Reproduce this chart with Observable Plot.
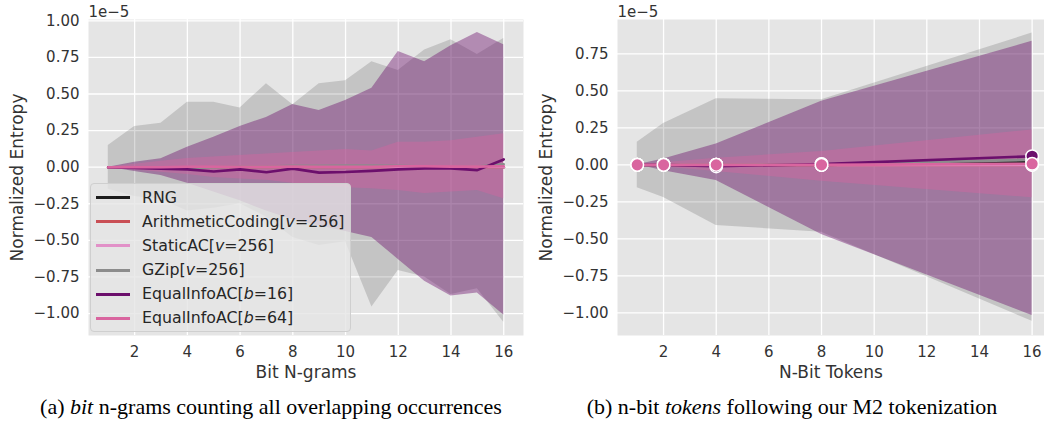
<!DOCTYPE html>
<html>
<head>
<meta charset="utf-8">
<script src="https://cdn.jsdelivr.net/npm/d3@7"></script>
<script src="https://cdn.jsdelivr.net/npm/@observablehq/plot@0.6"></script>
<style>
  html, body { margin: 0; padding: 0; background: #ffffff; overflow: hidden; }
  #root { position: relative; width: 1044px; height: 431px; font-family: "DejaVu Sans", sans-serif; }
  .panel { position: absolute; top: 0; }
  .legend { position: absolute; left: 90px; top: 183px; width: 261px; height: 149px;
    background: rgba(229,229,229,0.8); border: 1px solid #cfcfcf; border-radius: 4px;
    box-sizing: border-box; font-family: "DejaVu Sans", sans-serif; font-size: 15.8px; color: #262626; }
  .legend .row { position: absolute; left: 0; height: 24px; line-height: 24px; white-space: nowrap; }
  .legend .sw { position: absolute; left: 5px; top: 10.5px; width: 34px; height: 3px; }
  .legend .tx { position: absolute; left: 51px; top: 0; }
  .caption { position: absolute; top: 394px; width: 540px; text-align: center; font-family: "Liberation Serif", "Times New Roman", serif;
    font-size: 22px; line-height: 26px; color: #000; white-space: nowrap; }
</style>
</head>
<body>
<div id="root"></div>
<script>
// ---- series (legend order) ----
const seriesBase = ["RNG", "ArithmeticCoding", "StaticAC", "GZip", "EqualInfoAC", "EqualInfoAC"];
const seriesVar = ["", "v", "v", "v", "b", "b"];
const seriesVal = ["", "256", "256", "256", "16", "64"];
const seriesColors = ["#1c1c1c", "#c94f55", "#e291c8", "#8c8c8c", "#6c0f6c", "#d9659f"];

// ---- panel (a): bit n-grams (values in units of 1e-5) ----
const bitX = [1, 2, 3, 4, 5, 6, 7, 8, 9, 10, 11, 12, 13, 14, 15, 16];
const bitRng = [0, 0, 0, 0, 0, 0, 0, 0, 0, 0, 0, 0, 0, 0, 0, 0];
const bitAC = [0, 0, 0, 0, 0, 0, 0, 0, 0, 0, 0, 0, 0, 0, 0, 0];
const bitStatic = [0, 0, 0, 0, 0, 0, 0, 0, 0, 0, 0, 0, 0, 0, 0, 0];
const bitGzip = [0, 0, -0.005, -0.005, 0, 0.005, 0.005, 0.01, 0.01, 0.012, 0.012, 0.01, 0.005, 0.0, 0.005, 0.02];
const bitEq16 = [0, -0.005, -0.01, -0.015, -0.03, -0.015, -0.035, -0.01, -0.037, -0.033, -0.025, -0.015, -0.008, -0.008, -0.02, 0.053];
const bitEq64 = [0, 0, 0, 0.003, 0.003, 0.003, 0.003, 0.004, 0.003, 0.002, 0.002, 0.006, 0.006, 0.004, 0.004, 0.006];
const bitRngLo = [-0.15, -0.2, -0.22, -0.3, -0.28, -0.25, -0.34, -0.48, -0.535, -0.51, -0.956, -0.706, -0.75, -0.87, -0.83, -1.06];
const bitRngHi = [0.148, 0.278, 0.30, 0.444, 0.444, 0.405, 0.57, 0.426, 0.57, 0.59, 0.72, 0.66, 0.80, 0.87, 0.77, 0.88];
const bitEq16Lo = [0, -0.03, -0.057, -0.11, -0.17, -0.23, -0.30, -0.36, -0.40, -0.44, -0.48, -0.63, -0.78, -0.88, -0.86, -1.01];
const bitEq16Hi = [0, 0.034, 0.057, 0.137, 0.205, 0.278, 0.34, 0.428, 0.387, 0.456, 0.54, 0.79, 0.72, 0.83, 0.92, 0.836];
const bitEq64Lo = [0, -0.02, -0.034, -0.05, -0.07, -0.08, -0.09, -0.11, -0.125, -0.14, -0.148, -0.16, -0.18, -0.17, -0.16, -0.216];
const bitEq64Hi = [0, 0.02, 0.04, 0.06, 0.07, 0.08, 0.09, 0.10, 0.11, 0.12, 0.11, 0.17, 0.17, 0.18, 0.205, 0.228];

// ---- panel (b): n-bit tokens ----
const tokX = [1, 2, 4, 8, 16];
const tokRng = [0, 0, 0, 0, 0.02];
const tokAC = [0, 0, 0, 0, 0];
const tokStatic = [0, 0, 0, 0, 0];
const tokGzip = [0, 0, 0, 0.003, 0.034];
const tokEq16 = [0, 0, -0.01, 0.005, 0.058];
const tokEq64 = [0, 0, 0, 0, 0.007];
const tokRngLo = [-0.155, -0.22, -0.41, -0.455, -1.057];
const tokRngHi = [0.153, 0.28, 0.446, 0.44, 0.89];
const tokEq16Lo = [0, -0.04, -0.106, -0.47, -1.018];
const tokEq16Hi = [0, 0.04, 0.14, 0.43, 0.835];
const tokEq64Lo = [0, -0.015, -0.045, -0.11, -0.223];
const tokEq64Hi = [0, 0.015, 0.045, 0.09, 0.236];

// ---- tick labels / text ----
const xTicks = [2, 4, 6, 8, 10, 12, 14, 16];
const yTicksA = [-1, -0.75, -0.5, -0.25, 0, 0.25, 0.5, 0.75, 1];
const yTicksB = [-1, -0.75, -0.5, -0.25, 0, 0.25, 0.5, 0.75];
const yLabel = "Normalized Entropy";
const xLabelA = "Bit N-grams";
const xLabelB = "N-Bit Tokens";
const offsetText = "1e\u22125";

const fmt = d => (d < 0 ? "\u2212" : "") + Math.abs(d).toFixed(2);

function panel(opts) {
  const { xs, lines, bands, markers, yDomain, xDomain, yTicks, xLabel, width, marginLeft, marginRight } = opts;
  const marks = [
    Plot.frame({ fill: "#e5e5e5" }),
    Plot.gridX(xTicks, { stroke: "#ffffff", strokeOpacity: 1, strokeWidth: 1.3 }),
    Plot.gridY(yTicks, { stroke: "#ffffff", strokeOpacity: 1, strokeWidth: 1.3 })
  ];
  for (const b of bands) {
    const data = xs.map((x, i) => ({ x, lo: b.lo[i], hi: b.hi[i] }));
    marks.push(Plot.areaY(data, { x: "x", y1: "lo", y2: "hi", fill: b.color, fillOpacity: b.opacity }));
  }
  lines.forEach((vals, k) => {
    const data = xs.map((x, i) => ({ x, y: vals[i] }));
    marks.push(Plot.lineY(data, { x: "x", y: "y", stroke: seriesColors[k], strokeWidth: 2.6 }));
    if (markers) marks.push(Plot.dot(data, { x: "x", y: "y", fill: seriesColors[k], stroke: "#ffffff", strokeWidth: 1.5, r: 6.3 }));
  });
  marks.push(
    Plot.axisX(xTicks, { tickSize: 0, tickPadding: 11, fontSize: 15, color: "#333333", label: null }),
    Plot.axisY(yTicks, { tickSize: 0, tickPadding: 9, fontSize: 15, color: "#333333", label: null, tickFormat: fmt }),
    Plot.text([xLabel], { frameAnchor: "bottom", lineAnchor: "middle", textAnchor: "middle", dy: 37, fontSize: 17, fill: "#333333" }),
    Plot.text([yLabel], { frameAnchor: "left", textAnchor: "middle", lineAnchor: "middle", dx: -71, rotate: -90, fontSize: 17, fill: "#333333" }),
    Plot.text([offsetText], { frameAnchor: "top-left", textAnchor: "start", lineAnchor: "bottom", dy: -3, fontSize: 15, fill: "#333333" })
  );
  return Plot.plot({
    width, height: 380,
    marginLeft, marginRight, marginTop: 19, marginBottom: 45,
    x: { domain: xDomain, axis: null },
    y: { domain: yDomain, axis: null },
    style: { fontFamily: "DejaVu Sans", fontSize: "15px", background: "transparent", overflow: "visible" },
    marks
  });
}

const root = document.getElementById("root");

const a = panel({
  xs: bitX,
  lines: [bitRng, bitAC, bitStatic, bitGzip, bitEq16, bitEq64],
  bands: [
    { lo: bitRngLo, hi: bitRngHi, color: seriesColors[0], opacity: 0.165 },
    { lo: bitEq16Lo, hi: bitEq16Hi, color: seriesColors[4], opacity: 0.42 },
    { lo: bitEq64Lo, hi: bitEq64Hi, color: seriesColors[5], opacity: 0.4 }
  ],
  markers: false,
  yDomain: [-1.15, 1.009], xDomain: [0.25, 16.75], yTicks: yTicksA, xLabel: xLabelA,
  width: 528, marginLeft: 88, marginRight: 5
});
a.classList.add("panel"); a.style.left = "0px";
root.appendChild(a);

const b = panel({
  xs: tokX,
  lines: [tokRng, tokAC, tokStatic, tokGzip, tokEq16, tokEq64],
  bands: [
    { lo: tokRngLo, hi: tokRngHi, color: seriesColors[0], opacity: 0.165 },
    { lo: tokEq16Lo, hi: tokEq16Hi, color: seriesColors[4], opacity: 0.42 },
    { lo: tokEq64Lo, hi: tokEq64Hi, color: seriesColors[5], opacity: 0.4 }
  ],
  markers: true,
  yDomain: [-1.153, 0.982], xDomain: [0.25, 16.47], yTicks: yTicksB, xLabel: xLabelB,
  width: 524, marginLeft: 97, marginRight: 0
});
b.classList.add("panel"); b.style.left = "520px";
root.appendChild(b);

// legend
const leg = document.createElement("div");
leg.className = "legend";
seriesBase.forEach((name, i) => {
  const row = document.createElement("div");
  row.className = "row";
  row.style.top = (1.7 + i * 24.1) + "px";
  const sw = document.createElement("div");
  sw.className = "sw"; sw.style.background = seriesColors[i];
  const tx = document.createElement("div");
  tx.className = "tx";
  if (seriesVar[i]) {
    tx.append(name + "[");
    const it = document.createElement("i"); it.textContent = seriesVar[i];
    tx.append(it, "=" + seriesVal[i] + "]");
  } else tx.textContent = name;
  row.append(sw, tx);
  leg.appendChild(row);
});
root.appendChild(leg);

// captions
function caption(left, parts) {
  const c = document.createElement("div");
  c.className = "caption"; c.style.left = left + "px";
  parts.forEach(([t, it]) => {
    if (it) { const e = document.createElement("i"); e.textContent = t; c.appendChild(e); }
    else c.append(t);
  });
  root.appendChild(c);
}
caption(271 - 270, [["(a) ", false], ["bit", true], [" n-grams counting all overlapping occurrences", false]]);
caption(792 - 270, [["(b) n-bit ", false], ["tokens", true], [" following our M2 tokenization", false]]);
</script>
</body>
</html>
